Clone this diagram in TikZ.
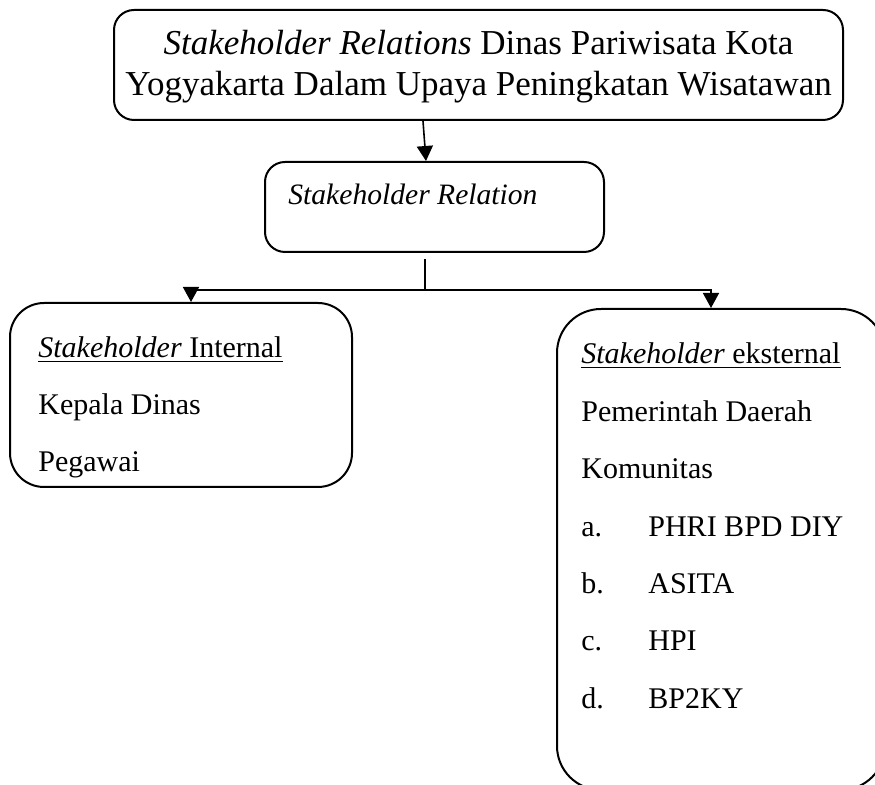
\documentclass[tikz,border=0pt]{standalone}
\usepackage{fontspec}
\setmainfont{Liberation Serif}
\usetikzlibrary{positioning, arrows.meta}
\tikzset{
  box/.style={draw, line width=1pt, inner sep=0pt},
  lbl/.style={anchor=west, inner sep=0pt, text height=10pt, text depth=3pt,
    font=\fontsize{15}{20}\selectfont},
  arr/.style={line width=0.8pt, -{Triangle[width=8pt,length=7.5pt]}},
  stem/.style={line width=0.8pt},
}

\begin{document}
\begin{tikzpicture}[x=0.5pt, y=-0.5pt]
  \useasboundingbox (0,0) rectangle (875,785);
  \clip (0,0) rectangle (875,785);

  % boxes
  \node[box, rounded corners=10pt, minimum width=364.5pt, minimum height=55pt] (top) at (478.5,65) {};
  \node[box, rounded corners=10pt, minimum width=169.5pt, minimum height=45pt] (mid) at (434.5,207) {};
  \node[box, rounded corners=17pt, minimum width=171pt, minimum height=92pt] (intl) at (181,395) {};
  \node[box, rounded corners=22pt, minimum width=164pt, minimum height=240.5pt] (ekst) at (721,549.5) {};

  % texts
  \node[inner sep=0pt, align=center, font=\fontsize{17.5}{20.5}\selectfont] (judul) at (478.5,67)
    {\textit{Stakeholder Relations} Dinas Pariwisata Kota\\Yogyakarta Dalam Upaya Peningkatan Wisatawan};
  \node[lbl, font=\fontsize{14.8}{20}\selectfont] (rel) at (288,198) {\textit{Stakeholder Relation}};

  \node[lbl] (inhead) at (38,351) {\underline{\textit{Stakeholder} Internal}};
  \node[lbl] (kadis) at (38,408) {Kepala Dinas};
  \node[lbl] (pegawai) at (38,465) {Pegawai};

  \node[lbl] (exhead) at (581,357) {\underline{\textit{Stakeholder} eksternal}};
  \node[lbl] (pemda) at (581,415) {Pemerintah Daerah};
  \node[lbl] (komunitas) at (581,472) {Komunitas};
  \node[lbl] (la) at (581,530) {a.};
  \node[lbl] (phri) at (648,530) {PHRI BPD DIY};
  \node[lbl] (lb) at (581,587) {b.};
  \node[lbl] (asita) at (648,587) {ASITA};
  \node[lbl] (lc) at (581,644) {c.};
  \node[lbl] (hpi) at (648,644) {HPI};
  \node[lbl] (ld) at (581,702) {d.};
  \node[lbl] (bp) at (648,702) {BP2KY};

  % connectors
  \coordinate (j) at (425,290);
  \draw[arr] (top.south -| 423,0) -- (mid.north -| 426,0);
  \draw[stem, shorten <=3pt] (mid.south -| j) -- (j);
  \draw[arr] (j) -| (intl.north -| 191,0);
  \draw[arr] (j) -| (ekst.north -| 711,0);
\end{tikzpicture}
\end{document}
